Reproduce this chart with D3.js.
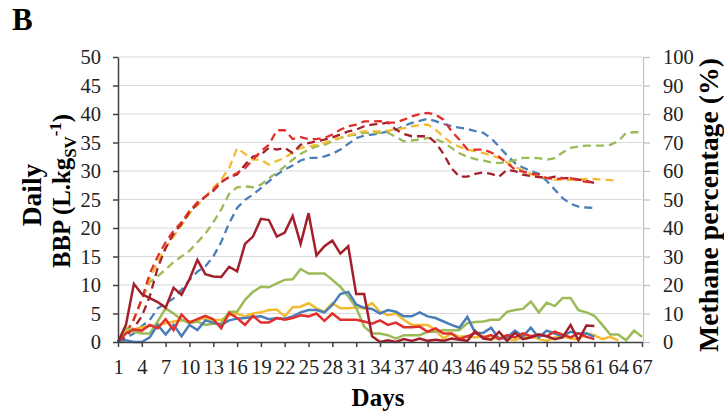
<!DOCTYPE html>
<html>
<head>
<meta charset="utf-8">
<script src="https://cdn.jsdelivr.net/npm/d3@7"></script>
<style>
  body { margin: 0; background: #fff; }
  svg { font-family: "Liberation Serif", "Times New Roman", serif; }
</style>
</head>
<body>
<svg id="chart" width="724" height="420"></svg>
<script>
// tick labels (category axis, every 3rd day)
var dayTicks = [1,4,7,10,13,16,19,22,25,28,31,34,37,40,43,46,49,52,55,58,61,64,67];
var bbpTicks = [0,5,10,15,20,25,30,35,40,45,50];
var ch4Ticks = [0,10,20,30,40,50,60,70,80,90,100];

// daily BBP, L.kg SV-1 (solid lines, left axis), one value per day from day 1
var bbpBlue = [0,0.3,0,0,0.8,3.0,1.3,3.0,1.0,3.0, 2.1,3.8,3.4,3.0,3.8,4.1,4.2,4.4,4.5,4.0,
  4.2,4.1,4.5,5.2,5.6,5.6,5.2,6.5,8.4,8.8, 6.6,6.0,5.8,5.0,5.6,5.3,4.5,4.5,5.2,4.5,
  4.2,3.6,3.0,2.5,4.4,1.6,1.6,2.5,0.5,0.8, 2.0,1.0,2.5,0.8,2.0,1.5,1.0,1.8,1.5,1.5, 0.9];
var bbpRed = [0,1.5,2.2,2.0,3.0,2.4,4.0,2.1,4.8,3.4, 4.0,4.6,4.0,2.4,5.1,4.2,3.0,4.6,3.4,3.4,
  4.2,3.9,4.2,4.7,4.5,5.0,3.7,5.0,3.9,3.9, 3.9,3.6,3.2,3.8,3.0,3.4,2.6,2.6,2.7,1.8,
  2.4,1.5,1.5,0.5,1.0,1.6,0.8,1.2,0.5,1.2, 0.8,1.5,1.0,1.3,1.0,1.8,1.3,0.8,1.5,0.9, 0.5];
var bbpGreen = [0,2.5,1.8,1.5,1.5,3.6,5.9,5.0,3.9,3.3, 3.6,3.0,3.2,3.3,5.3,5.3,7.4,8.8,9.7,9.6,
  10.3,10.9,11.0,12.8,12.0,12.0,12.0,10.9,9.7,8.0, 6.0,2.7,1.5,1.5,1.2,0.6,1.2,1.2,1.2,1.8,
  1.8,2.1,2.0,2.1,3.3,3.5,3.6,3.9,3.9,5.3, 5.6,5.8,7.1,5.2,6.9,6.3,7.7,7.7,5.6,5.2,
  4.6,3.0,1.3,1.3,0.3,2.0,0.9];
var bbpMaroon = [0,3.0,10.2,8.4,7.7,7.0,6.0,9.5,8.3,11.0, 14.4,11.9,11.5,11.4,13.2,12.4,17.2,18.5,21.6,21.4,
  18.5,19.2,22.1,17.2,22.6,15.2,16.8,17.8,15.5,16.8, 8.4,8.4,1.0,0,0.3,0,0.5,0.2,0.6,0.2,
  0.4,0.2,0.6,0.4,0.2,1.9,0.6,0.4,1.8,0.2, 1.6,0.5,0.8,1.3,1.0,0.5,0.8,3.0,0.3,2.9, 2.8];
var bbpYellow = [0,2.1,2.2,2.6,2.8,3.0,3.3,3.6,3.8,3.6, 3.8,4.2,3.8,3.9,4.7,5.0,4.5,5.0,5.2,5.6,
  5.7,4.5,6.1,6.2,6.8,5.9,5.3,6.8,5.9,5.9, 6.1,5.9,6.8,5.3,4.7,5.0,3.9,3.0,3.0,3.0,
  2.1,0.6,1.5,0.9,1.0,0.8,1.0,0.5,0.8,0.6, 0.3,0.8,1.0,0.5,0.2,0.8,1.0,0.6,0.5,1.5,
  1.2,0.5,0.9,0.3];

// methane percentage (dashed lines, right axis)
var ch4Blue = [0,1.3,3,5.6,7.7,11.8,13.6,15.3,18.3,21.8, 24.7,26.5,30,35.1,41.7,47,49.9,51.7,54,56.4,
  58.7,60.5,61.9,63.7,64.6,64.6,65.1,66,67.5,69.5, 71.5,72.4,72.8,73.2,73.9,74.5,75.8,76.9,77.6,78.3,
  77.5,76.5,75.7,75.2,74.8,74,73.4,71.5,68.5,65.5, 62.8,61.2,60,59,56.5,53.5,50.5,48.5,47.5,47.2, 47];
var ch4Red = [0,3,8,15,24,30,35,39,42,46, 49,51,53.4,56.3,57.9,59.3,61,64,66.9,69.2,
  74.3,74.3,71.2,71.9,71.2,71.2,71.6,72.8,74.5,75.7, 76.3,77.4,77.4,77.5,77,77,78,79.2,80,80.4,
  79.8,78,74,71,67.6,67.5,67.5,66.5,65,62.8, 60.5,59.8,59,58.7,57.5,57.2,57.4,57.5,56.7,56.2, 55.8];
var ch4Green = [0,3,8,15,21,23,25.5,28,30,32, 35,38,42,46.5,52,54.3,54.6,54.3,55.2,57.5,
  59.3,61.6,64,66,67.5,68.6,69.2,70.4,71.6,72.4, 72.8,73.4,73.4,73.4,73.4,72,70.4,70.7,71,71.6,
  71.3,70,68.1,66.2,65,64.2,63.7,63,62.8,63.2, 63.8,64.6,64.6,64.5,64,64.5,66.5,68.1,68.6,68.9,
  68.9,68.9,69.2,70.4,73.4,73.6,73.6];
var ch4Maroon = [0,2,5,9,16,26,33,38,41.5,45.5, 48.5,51,53,56,57.9,58.8,62.2,65.1,65.7,68.1,
  67.5,68.1,66.3,69.2,69.8,70.4,71,71.8,72.8,73.9, 74.5,75.7,76.3,76.5,77,74.5,73,72.2,72.2,72.2,
  70,66,61,58,58,59,59.5,59,58,60.4, 60,58.7,58.2,57.9,57.4,58,57.5,57.5,57,56.5, 55.8];
var ch4Yellow = [0,3,8,15,22,28,33,37,41,45, 48,51,54,57,61,68,66,64,64,62.2,
  63.5,64.6,66.5,68.1,68.6,69.2,69.8,71,71.6,72.4, 73.4,73.9,73.9,74,74.2,74.5,75,75.7,76,76.3,
  74.5,72,69.8,68.5,67.5,67,66.3,65.5,64.6,63, 61.5,60.2,59,58,57.5,57,56.9,56.9,57,57.2,
  57.2,56.9,56.8,56.6];

var colors = {blue: "#4a7ebb", red: "#e0302c", green: "#9bbb59", maroon: "#a3202b", yellow: "#f2bb30"};

var svg = d3.select("#chart");

var plot = {left: 118, right: 642, top: 57, bottom: 342};

var x = d3.scaleLinear().domain([1, 67]).range([plot.left, plot.right]);
var yL = d3.scaleLinear().domain([0, 50]).range([plot.bottom, plot.top]);
var yR = d3.scaleLinear().domain([0, 100]).range([plot.bottom, plot.top]);

// gridlines
svg.append("g")
  .selectAll("line")
  .data(bbpTicks.slice(1)).enter()
  .append("line")
  .attr("x1", plot.left).attr("x2", plot.right)
  .attr("y1", d => yL(d)).attr("y2", d => yL(d))
  .attr("stroke", "#d9d9d9").attr("stroke-width", 1);

// lines
var dashed = [[ch4Blue, colors.blue], [ch4Green, colors.green], [ch4Yellow, colors.yellow],
              [ch4Maroon, colors.maroon], [ch4Red, colors.red]];
var solid = [[bbpYellow, colors.yellow], [bbpGreen, colors.green], [bbpBlue, colors.blue],
             [bbpRed, colors.red], [bbpMaroon, colors.maroon]];

var lineR = d3.line().x((d, i) => x(i + 1)).y(d => yR(d));
var lineL = d3.line().x((d, i) => x(i + 1)).y(d => yL(d));

svg.append("g").selectAll("path")
  .data(dashed).enter()
  .append("path")
  .attr("d", d => lineR(d[0]))
  .attr("fill", "none")
  .attr("stroke", d => d[1])
  .attr("stroke-width", 2.3)
  .attr("stroke-dasharray", "8,5");

svg.append("g").selectAll("path")
  .data(solid).enter()
  .append("path")
  .attr("d", d => lineL(d[0]))
  .attr("fill", "none")
  .attr("stroke", d => d[1])
  .attr("stroke-width", 2.5);

// axes
var xAxis = svg.append("g")
  .attr("transform", "translate(0," + plot.bottom + ")")
  .call(d3.axisBottom(x).tickValues(dayTicks).tickSize(5).tickSizeOuter(0).tickPadding(12));

var leftAxis = svg.append("g")
  .attr("transform", "translate(" + plot.left + ",0)")
  .call(d3.axisLeft(yL).tickValues(bbpTicks).tickSize(5).tickSizeOuter(0).tickPadding(12));

var rightAxis = svg.append("g")
  .attr("transform", "translate(" + (plot.right + 1) + ",0)")
  .call(d3.axisRight(yR).tickValues(ch4Ticks).tickSize(7).tickSizeOuter(0).tickPadding(13));

[xAxis, leftAxis].forEach(function(g) {
  g.selectAll("path, line").attr("stroke", "#404040").attr("stroke-width", 1.5);
});
rightAxis.selectAll("path, line").attr("stroke", "#bfbfbf").attr("stroke-width", 1.2);

svg.selectAll(".tick text")
  .attr("fill", "#222")
  .style("font-size", "20.5px")
  .style("font-family", "'Liberation Serif', 'Times New Roman', serif");

// titles
svg.append("text")
  .attr("x", 12).attr("y", 30)
  .style("font-size", "31px").style("font-weight", "bold")
  .text("B");

svg.append("text")
  .attr("x", 378).attr("y", 406)
  .attr("text-anchor", "middle")
  .style("font-size", "25px").style("font-weight", "bold")
  .text("Days");

// rotated titles are scaled so they span the same length as in the figure
function vertTitle(t, cx, cy, span) {
  var w = t.node().getBBox().width;
  var k = span / w;
  t.attr("transform", "translate(" + cx + "," + cy + ") rotate(-90) scale(" + k + ")");
}

var daily = svg.append("text")
  .attr("text-anchor", "middle")
  .style("font-size", "27px").style("font-weight", "bold")
  .text("Daily");
vertTitle(daily, 41, 195, 63);

var bbpTitle = svg.append("text")
  .attr("text-anchor", "middle")
  .style("font-size", "25px").style("font-weight", "bold");
bbpTitle.append("tspan").text("BBP (L.kg");
bbpTitle.append("tspan").attr("dy", 6).style("font-size", "17px").text("SV");
bbpTitle.append("tspan").attr("dy", -15).style("font-size", "17px").text("-1");
bbpTitle.append("tspan").attr("dy", 9).text(")");
vertTitle(bbpTitle, 70, 191, 153);

var ch4Title = svg.append("text")
  .attr("text-anchor", "middle")
  .style("font-size", "27px").style("font-weight", "bold")
  .text("Methane percentage (%)");
vertTitle(ch4Title, 718, 205, 294);
</script>
</body>
</html>
